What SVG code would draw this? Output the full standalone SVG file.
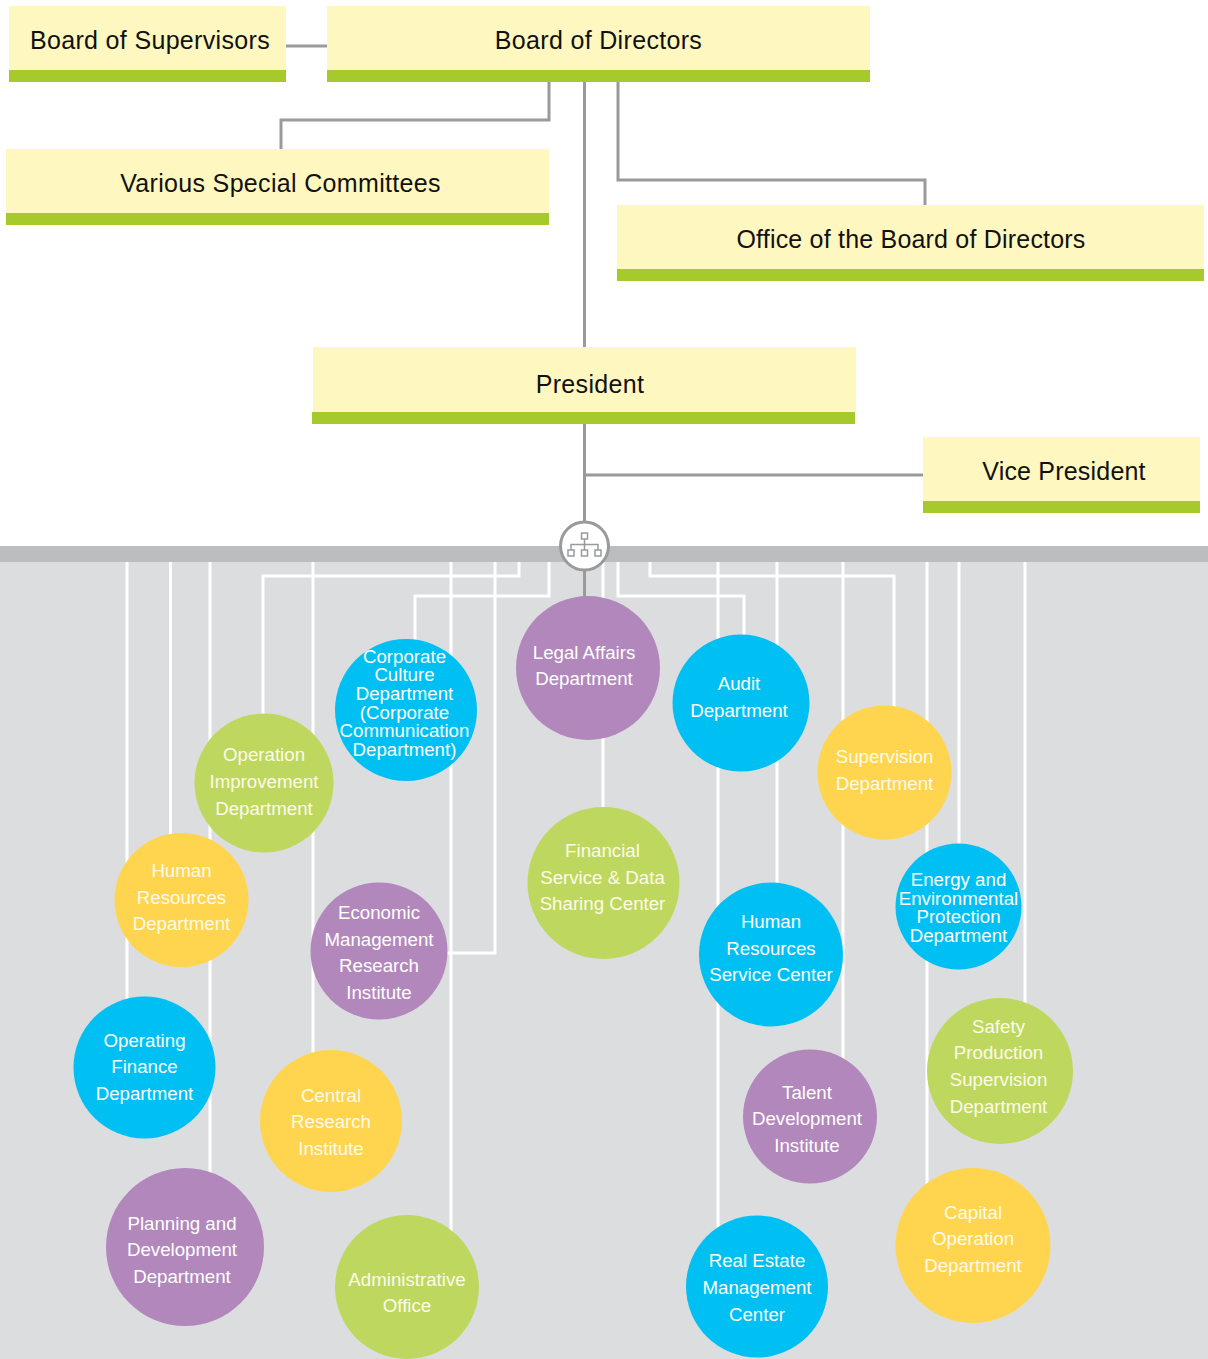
<svg xmlns="http://www.w3.org/2000/svg" width="1208" height="1359" viewBox="0 0 1208 1359">
<style>
text{font-family:"Liberation Sans",Arial,sans-serif;text-anchor:middle}
.b{font-size:25px;fill:#111;letter-spacing:.33px}
.b2{font-size:25px;fill:#111;letter-spacing:.2px}
.c{font-size:18.700px;fill:#fdfbe8}
.t{font-size:18.700px;fill:#fff}
.cream{fill:#fef8c0}.bar{fill:#a6ca2c}
.g{fill:none;stroke:#999a9c;stroke-width:3}
.w{fill:none;stroke:#fff;stroke-width:3}
.blue{fill:#00c0f3}.purple{fill:#b288bc}.green{fill:#bed85f}.yellow{fill:#ffd550}
</style>
<rect width="1208" height="1359" fill="#fff"/>
<rect id="panel" y="562" width="1208" height="797" fill="#dcddde"/>
<rect id="band" y="546" width="1208" height="16" fill="#bcbdbf"/>
<g id="connectors">
<path class="w" d="M127 562V1000M170.500 562V840M210 562V1180M313 562V1060M451 562V1240M495 562V953H447M519 562V576H263V720M549 562V596H415V645M603 562V815M618 562V596H744V640M650 562V576H894V710M718 562V1230M777 562V890M843 562V1060M927 562V1190M959 562V850M1025 562V1010"/>
<path class="g" d="M286 46H327M549 82V120H281V149M584.500 82V347M618 82V180H925V205M584.500 424V522M584.500 475H923M584.500 570V597"/>
</g>
<g id="n-supervisors"><rect class="cream" x="9" y="6" width="277" height="64"/><rect class="bar" x="9" y="70" width="277" height="12"/><text class="b" x="150" y="49">Board of Supervisors</text></g>
<g id="n-directors"><rect class="cream" x="327" y="6" width="543" height="64"/><rect class="bar" x="327" y="70" width="543" height="12"/><text class="b" x="598.500" y="49">Board of Directors</text></g>
<g id="n-committees"><rect class="cream" x="6" y="149" width="543" height="64"/><rect class="bar" x="6" y="213" width="543" height="12"/><text class="b" x="280.500" y="192">Various Special Committees</text></g>
<g id="n-office"><rect class="cream" x="617" y="205" width="587" height="64"/><rect class="bar" x="617" y="269" width="587" height="12"/><text class="b2" x="911" y="248">Office of the Board of Directors</text></g>
<g id="n-president"><rect class="cream" x="313" y="347" width="543" height="65"/><rect class="bar" x="312" y="412" width="543" height="12"/><text class="b" x="590" y="393">President</text></g>
<g id="n-vp"><rect class="cream" x="923" y="437" width="277" height="64"/><rect class="bar" x="923" y="501" width="277" height="12"/><text class="b2" x="1064" y="480">Vice President</text></g>
<g id="n-hub"><circle cx="584.500" cy="546" r="24" fill="#fff" stroke="#999a9c" stroke-width="3"/>
<g fill="none" stroke="#999a9c" stroke-width="1.500"><rect x="581.500" y="533" width="6" height="6"/><rect x="568" y="550" width="6" height="6"/><rect x="581.500" y="550" width="6" height="6"/><rect x="595" y="550" width="6" height="6"/><path d="M584.500 539V550M571 550V544.500H598V550"/></g></g>
<g id="n-legal"><circle class="purple" cx="588" cy="668" r="72"/><text class="t" x="584" y="659">Legal Affairs</text><text class="t" x="584" y="685">Department</text></g>
<g id="n-culture"><circle class="blue" cx="406" cy="710" r="71"/><text class="t" x="404.500" y="663">Corporate</text><text class="t" x="404.500" y="681">Culture</text><text class="t" x="404.500" y="700">Department</text><text class="t" x="404.500" y="719">(Corporate</text><text class="t" x="404.500" y="737">Communication</text><text class="t" x="404.500" y="756">Department)</text></g>
<g id="n-audit"><circle class="blue" cx="741" cy="703" r="68.500"/><text class="t" x="739" y="690">Audit</text><text class="t" x="739" y="717">Department</text></g>
<g id="n-operation"><circle class="green" cx="264" cy="783" r="69.500"/><text class="c" x="264" y="761">Operation</text><text class="c" x="264" y="788">Improvement</text><text class="c" x="264" y="815">Department</text></g>
<g id="n-supervision"><circle class="yellow" cx="884.500" cy="772.500" r="67"/><text class="c" x="884.500" y="763">Supervision</text><text class="c" x="884.500" y="790">Department</text></g>
<g id="n-financial"><circle class="green" cx="603.500" cy="883" r="76"/><text class="c" x="602.500" y="857">Financial</text><text class="c" x="602.500" y="884">Service &amp; Data</text><text class="c" x="602.500" y="910">Sharing Center</text></g>
<g id="n-hr"><circle class="yellow" cx="181.500" cy="900" r="67"/><text class="c" x="181.500" y="877">Human</text><text class="c" x="181.500" y="904">Resources</text><text class="c" x="181.500" y="930">Department</text></g>
<g id="n-energy"><circle class="blue" cx="958.500" cy="906.500" r="63"/><text class="t" x="958.500" y="886">Energy and</text><text class="t" x="958.500" y="905">Environmental</text><text class="t" x="958.500" y="923">Protection</text><text class="t" x="958.500" y="942">Department</text></g>
<g id="n-economic"><circle class="purple" cx="379" cy="951" r="68.500"/><text class="t" x="379" y="919">Economic</text><text class="t" x="379" y="946">Management</text><text class="t" x="379" y="972">Research</text><text class="t" x="379" y="999">Institute</text></g>
<g id="n-hrservice"><circle class="blue" cx="771" cy="954.500" r="72"/><text class="t" x="771" y="928">Human</text><text class="t" x="771" y="955">Resources</text><text class="t" x="771" y="981">Service Center</text></g>
<g id="n-finance"><circle class="blue" cx="144.500" cy="1067.500" r="71"/><text class="t" x="144.500" y="1047">Operating</text><text class="t" x="144.500" y="1073">Finance</text><text class="t" x="144.500" y="1100">Department</text></g>
<g id="n-safety"><circle class="green" cx="1000" cy="1071" r="73"/><text class="c" x="998.500" y="1033">Safety</text><text class="c" x="998.500" y="1059">Production</text><text class="c" x="998.500" y="1086">Supervision</text><text class="c" x="998.500" y="1113">Department</text></g>
<g id="n-central"><circle class="yellow" cx="331" cy="1121" r="71"/><text class="c" x="331" y="1102">Central</text><text class="c" x="331" y="1128">Research</text><text class="c" x="331" y="1155">Institute</text></g>
<g id="n-talent"><circle class="purple" cx="810" cy="1116.500" r="67"/><text class="t" x="807" y="1099">Talent</text><text class="t" x="807" y="1125">Development</text><text class="t" x="807" y="1152">Institute</text></g>
<g id="n-planning"><circle class="purple" cx="185" cy="1247" r="79"/><text class="t" x="182" y="1230">Planning and</text><text class="t" x="182" y="1256">Development</text><text class="t" x="182" y="1283">Department</text></g>
<g id="n-capital"><circle class="yellow" cx="973" cy="1245.500" r="77.500"/><text class="c" x="973" y="1219">Capital</text><text class="c" x="973" y="1245">Operation</text><text class="c" x="973" y="1272">Department</text></g>
<g id="n-admin"><circle class="green" cx="407" cy="1287" r="72"/><text class="c" x="407" y="1286">Administrative</text><text class="c" x="407" y="1312">Office</text></g>
<g id="n-realestate"><circle class="blue" cx="757" cy="1286.500" r="71"/><text class="t" x="757" y="1267">Real Estate</text><text class="t" x="757" y="1294">Management</text><text class="t" x="757" y="1321">Center</text></g>
</svg>
